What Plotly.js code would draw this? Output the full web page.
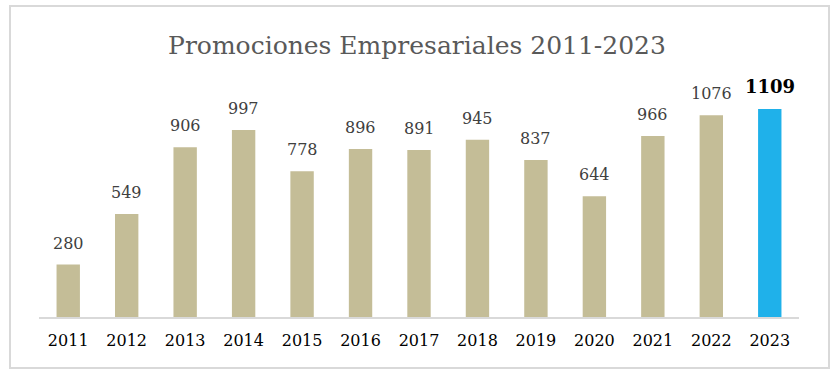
<!DOCTYPE html>
<html>
<head>
<meta charset="utf-8">
<script src="https://cdn.plot.ly/plotly-3.0.1.min.js"></script>
<style>
html,body{margin:0;padding:0;background:#fff;}
#wrap{position:relative;width:834px;height:373px;}
#chart{width:834px;height:373px;}
#frame{position:absolute;left:9px;top:5px;width:817px;height:360px;border:2px solid #D9D9D9;pointer-events:none;}
</style>
</head>
<body>
<div id="wrap"><div id="chart"></div><div id="frame"></div></div>
<script>
var years = ['2011','2012','2013','2014','2015','2016','2017','2018','2019','2020','2021','2022','2023'];
var promociones = [280, 549, 906, 997, 778, 896, 891, 945, 837, 644, 966, 1076, 1109];
var chartTitle = 'Promociones Empresariales 2011-2023';

var colors = years.map(function(y, i){ return i === years.length - 1 ? '#1FB1EA' : '#C4BD97'; });

var trace = {
  type: 'bar',
  x: years,
  y: promociones,
  marker: {color: colors},
  hoverinfo: 'x+y'
};

var annotations = years.map(function(y, i){
  var last = i === years.length - 1;
  return {
    x: i, y: promociones[i], xref: 'x', yref: 'y',
    text: last ? '<b>' + promociones[i] + '</b>' : String(promociones[i]),
    showarrow: false, yanchor: 'bottom', yshift: 10,
    font: {family: 'DejaVu Serif, serif', size: last ? 18 : 16, color: last ? '#000000' : '#404040'}
  };
});

var layout = {
  width: 834, height: 373,
  margin: {l: 39, r: 35, t: 92, b: 56},
  paper_bgcolor: '#ffffff', plot_bgcolor: '#ffffff',
  title: {text: chartTitle, x: 0.5, xanchor: 'center', y: 0.88, yanchor: 'middle',
          font: {family: 'DejaVu Serif, serif', size: 25, color: '#595959'}},
  bargap: 0.6,
  showlegend: false,
  xaxis: {type: 'category', range: [-0.5, years.length - 0.5], showline: true, linecolor: '#D9D9D9', linewidth: 2,
          ticks: '', ticklabelstandoff: 8, tickfont: {family: 'DejaVu Serif, serif', size: 16, color: '#000000'},
          showgrid: false, zeroline: false},
  yaxis: {range: [0, 1200], visible: false, showgrid: false, zeroline: false},
  annotations: annotations
};

Plotly.newPlot('chart', [trace], layout, {displayModeBar: false, staticPlot: true});
</script>
</body>
</html>
